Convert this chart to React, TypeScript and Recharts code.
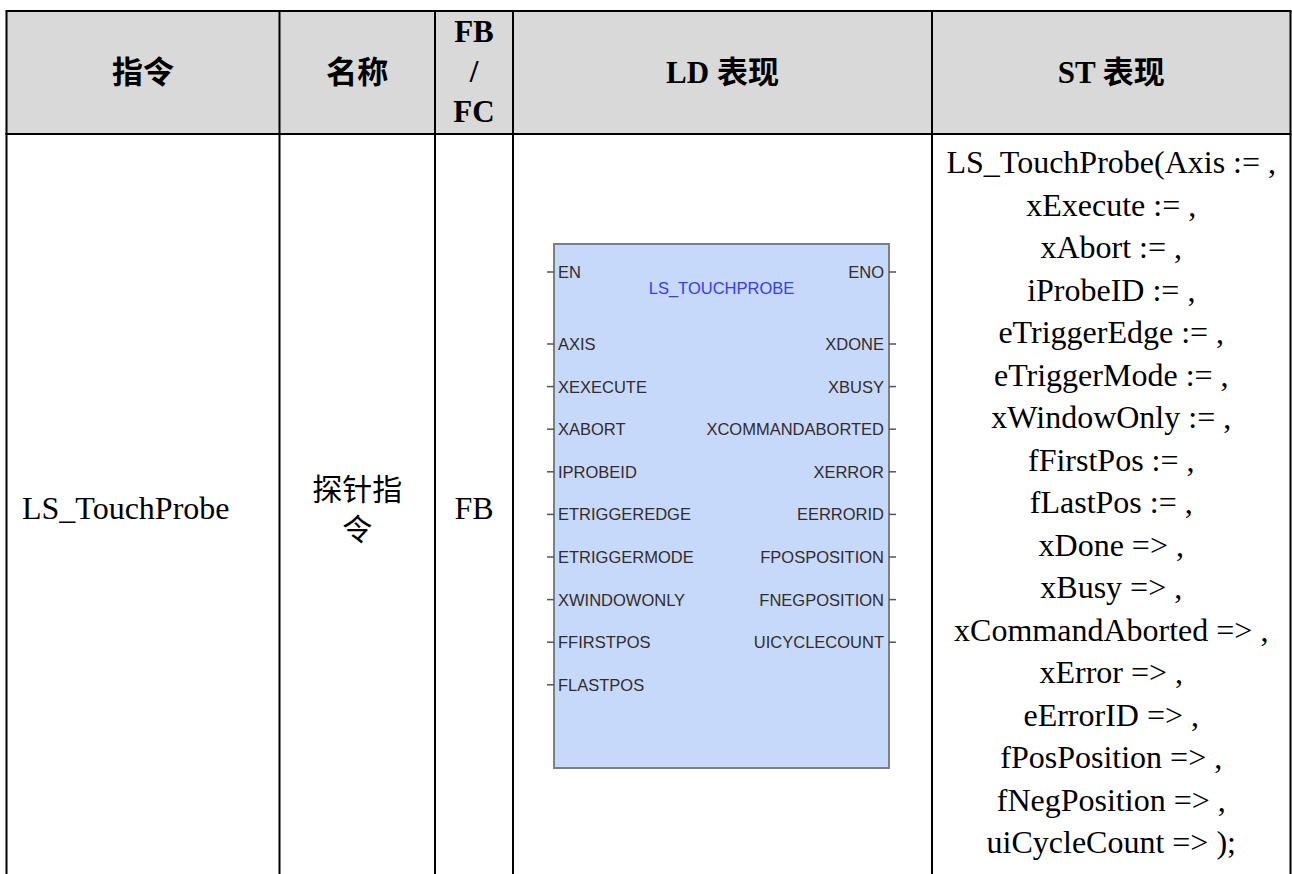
import { ComposedChart, XAxis, YAxis, Scatter, ReferenceArea, ReferenceLine } from 'recharts';

// table content
const headerLines = [['指令'], ['名称'], ['FB', '/', 'FC'], ['LD 表现'], ['ST 表现']];
const instruction = 'LS_TouchProbe';
const nameLines = ['探针指', '令'];
const blockKind = 'FB';

// LD function block
const blockTitle = 'LS_TOUCHPROBE';
const enIn = 'EN';
const enOut = 'ENO';
const ldInputs = ['AXIS', 'XEXECUTE', 'XABORT', 'IPROBEID', 'ETRIGGEREDGE', 'ETRIGGERMODE', 'XWINDOWONLY', 'FFIRSTPOS', 'FLASTPOS'];
const ldOutputs = ['XDONE', 'XBUSY', 'XCOMMANDABORTED', 'XERROR', 'EERRORID', 'FPOSPOSITION', 'FNEGPOSITION', 'UICYCLECOUNT'];

// ST call text
const stLines = [
  'LS_TouchProbe(Axis := ,',
  'xExecute := ,',
  'xAbort := ,',
  'iProbeID := ,',
  'eTriggerEdge := ,',
  'eTriggerMode := ,',
  'xWindowOnly := ,',
  'fFirstPos := ,',
  'fLastPos := ,',
  'xDone => ,',
  'xBusy => ,',
  'xCommandAborted => ,',
  'xError => ,',
  'eErrorID => ,',
  'fPosPosition => ,',
  'fNegPosition => ,',
  'uiCycleCount => );',
];

// layout (page pixels)
const W = 1292;
const H = 874;
const COLS = [6.5, 279.5, 435, 513, 932, 1290.5];
const TOP = 11;
const HEAD_BOTTOM = 134;
const BOX = { left: 554, right: 889, top: 244, bottom: 768 };
const PIN_EN = 272;
const PIN_FIRST = 344;
const PIN_STEP = 42.6;

const SERIF = "'Liberation Serif', 'Times New Roman', 'Noto Sans CJK SC', serif";
const CJK = "'Noto Sans CJK SC', sans-serif";
const SANS = "'Liberation Sans', Arial, sans-serif";

const colMid = (i: number) => (COLS[i] + COLS[i + 1]) / 2;

type Pt = { x: number; y: number; text: string; anchor?: string };

const headerPts: Pt[] = headerLines.flatMap((lines, i) =>
  lines.map((t, j) => ({
    x: colMid(i),
    y: lines.length === 1 ? 83 : 42 + j * 40,
    text: t,
  }))
);

const bodySerifPts: Pt[] = [
  { x: 22, y: 519, text: instruction, anchor: 'start' },
  { x: colMid(2), y: 519, text: blockKind },
  ...stLines.map((t, i) => ({ x: colMid(4), y: 173 + i * 42.5, text: t })),
];

const bodyCjkPts: Pt[] = nameLines.map((t, i) => ({ x: colMid(1), y: 500 + i * 40, text: t }));

const pinY = (i: number) => PIN_FIRST + i * PIN_STEP;

const pinPts: Pt[] = [
  { x: BOX.left + 4, y: PIN_EN + 6, text: enIn, anchor: 'start' },
  { x: BOX.right - 5, y: PIN_EN + 6, text: enOut, anchor: 'end' },
  ...ldInputs.map((t, i) => ({ x: BOX.left + 4, y: pinY(i) + 6, text: t, anchor: 'start' })),
  ...ldOutputs.map((t, i) => ({ x: BOX.right - 5, y: pinY(i) + 6, text: t, anchor: 'end' })),
];

const titlePts: Pt[] = [{ x: (BOX.left + BOX.right) / 2, y: 294, text: blockTitle }];

const stubYsLeft = [PIN_EN, ...ldInputs.map((_, i) => pinY(i))];
const stubYsRight = [PIN_EN, ...ldOutputs.map((_, i) => pinY(i))];

const textShape = (style: { font: string; size: number; weight?: string; fill: string }) => (props: any) => {
  const { cx, cy, payload } = props;
  return (
    <text
      x={cx}
      y={cy}
      textAnchor={payload.anchor || 'middle'}
      fontFamily={style.font}
      fontSize={style.size}
      fontWeight={style.weight || 'normal'}
      fill={style.fill}
    >
      {payload.text}
    </text>
  );
};

export default function App() {
  return (
    <div style={{ position: 'absolute', left: 0, top: 0, width: W, height: H, background: '#fff' }}>
      <ComposedChart width={W} height={H} margin={{ top: 0, right: 0, bottom: 0, left: 0 }}>
        <XAxis type="number" dataKey="x" domain={[0, W]} hide />
        <YAxis type="number" dataKey="y" domain={[0, H]} reversed hide />

        {/* header shading */}
        <ReferenceArea x1={COLS[0]} x2={COLS[5]} y1={TOP} y2={HEAD_BOTTOM} fill="#d9d9d9" fillOpacity={1} stroke="none" />

        {/* LD block body */}
        <ReferenceArea
          x1={BOX.left}
          x2={BOX.right}
          y1={BOX.top}
          y2={BOX.bottom}
          fill="#c6d9fb"
          fillOpacity={1}
          stroke="#7b7f86"
          strokeWidth={2}
        />

        {/* table rules */}
        <ReferenceLine segment={[{ x: COLS[0] - 1, y: TOP }, { x: COLS[5] + 1, y: TOP }]} stroke="#000" strokeWidth={2} ifOverflow="visible" />
        <ReferenceLine segment={[{ x: COLS[0] - 1, y: HEAD_BOTTOM }, { x: COLS[5] + 1, y: HEAD_BOTTOM }]} stroke="#000" strokeWidth={2} ifOverflow="visible" />
        {COLS.map((c, i) => (
          <ReferenceLine key={'c' + i} segment={[{ x: c, y: TOP }, { x: c, y: H }]} stroke="#000" strokeWidth={2} ifOverflow="visible" />
        ))}

        {/* pin stubs */}
        {stubYsLeft.map((y, i) => (
          <ReferenceLine key={'l' + i} segment={[{ x: BOX.left - 7, y }, { x: BOX.left, y }]} stroke="#555" strokeWidth={1.5} ifOverflow="visible" />
        ))}
        {stubYsRight.map((y, i) => (
          <ReferenceLine key={'r' + i} segment={[{ x: BOX.right, y }, { x: BOX.right + 7, y }]} stroke="#555" strokeWidth={1.5} ifOverflow="visible" />
        ))}

        <Scatter data={headerPts} isAnimationActive={false} shape={textShape({ font: SERIF, size: 31, weight: 'bold', fill: '#000' })} />
        <Scatter data={bodySerifPts} isAnimationActive={false} shape={textShape({ font: SERIF, size: 32, fill: '#000' })} />
        <Scatter data={bodyCjkPts} isAnimationActive={false} shape={textShape({ font: CJK, size: 30, fill: '#000' })} />
        <Scatter data={pinPts} isAnimationActive={false} shape={textShape({ font: SANS, size: 16.5, fill: '#332b2b' })} />
        <Scatter data={titlePts} isAnimationActive={false} shape={textShape({ font: SANS, size: 16.5, fill: '#3a3af0' })} />
      </ComposedChart>
    </div>
  );
}
